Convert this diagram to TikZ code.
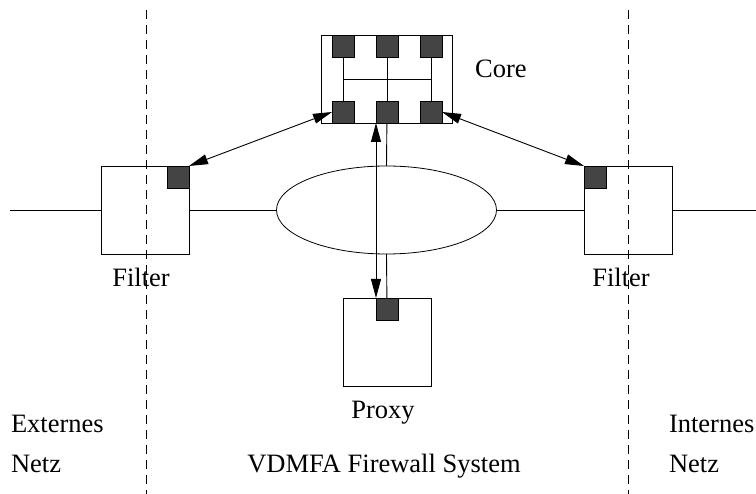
\documentclass[tikz,border=0pt]{standalone}
\usepackage{fontspec}
\setmainfont{Liberation Serif}
\usetikzlibrary{arrows.meta,shapes.geometric}
\definecolor{portgray}{RGB}{68,68,68}

\begin{document}
\begin{tikzpicture}[x=1pt,y=-1pt,line width=0.9pt,
    every node/.style={inner sep=0,outer sep=0},
    box/.style={draw,rectangle,minimum width=88pt,minimum height=88pt},
    port/.style={draw,fill=portgray,minimum size=22pt},
    lbl/.style={font=\fontsize{26.5}{30}\selectfont,anchor=base},
    bidir/.style={{Triangle[length=19pt,width=10pt]}-{Triangle[length=19pt,width=10pt]}}]
    \useasboundingbox (0,0) rectangle (756,494);
    \coordinate(extl) at (10,210);
    \coordinate(extr) at (756,210);
    \coordinate(cut1a) at (146,10);
    \coordinate(cut1b) at (146,494);
    \coordinate(cut2a) at (628,10);
    \coordinate(cut2b) at (628,494);
    \draw[dash pattern=on 9pt off 6pt] (cut1a) -- (cut1b);
    \draw[dash pattern=on 9pt off 6pt] (cut2a) -- (cut2b);

    \node[draw,minimum width=131pt,minimum height=88pt](core) at (386.5,79) {};
    \node[port](t1) at (343,46) {};
    \node[port](t2) at (387,46) {};
    \node[port](t3) at (431,46) {};
    \node[port](b1) at (343,112) {};
    \node[port](b2) at (387,112) {};
    \node[port](b3) at (431,112) {};
    \draw (t1) -- (b1);
    \draw (t2) -- (b2);
    \draw (t3) -- (b3);
    \draw (t1 |- core) -- (t3 |- core);
    \node[lbl](corelbl) at (501,78) {Core};

    \node[box](filterl) at (145.5,210) {};
    \node[port](fl) at (178,177) {};
    \node[box](filterr) at (628,210) {};
    \node[port](fr) at (595,177) {};
    \node[draw,ellipse,line width=0.8pt,minimum width=220pt,minimum height=88pt](hub) at (386.5,210) {};
    \node[box](proxy) at (387,342) {};
    \node[port](px) at (387,309) {};

    \draw (extl) -- (filterl.west);
    \draw (filterl.east) -- (hub.west);
    \draw (hub.east) -- (filterr.west);
    \draw (filterr.east) -- (extr);
    \draw (b2) -- (hub.north);
    \draw (hub.south) -- (px);

    \draw[bidir] (b1.west) -- (fl.north east);
    \draw[bidir] (b3.east) -- (fr.north west);
    \draw[bidir] (b2.south west) -- (px.north west);

    \node[lbl](filterllbl) at (141,287) {Filter};
    \node[lbl](filterrlbl) at (621,287) {Filter};
    \node[lbl](proxylbl) at (383,419) {Proxy};
    \node[lbl,anchor=base west](ext1) at (11,433) {Externes};
    \node[lbl,anchor=base west](ext2) at (11,473) {Netz};
    \node[lbl,anchor=base west](int1) at (669,433) {Internes};
    \node[lbl,anchor=base west](int2) at (669,473) {Netz};
    \node[lbl](syslbl) at (384,473) {VDMFA Firewall System};
\end{tikzpicture}
\end{document}
